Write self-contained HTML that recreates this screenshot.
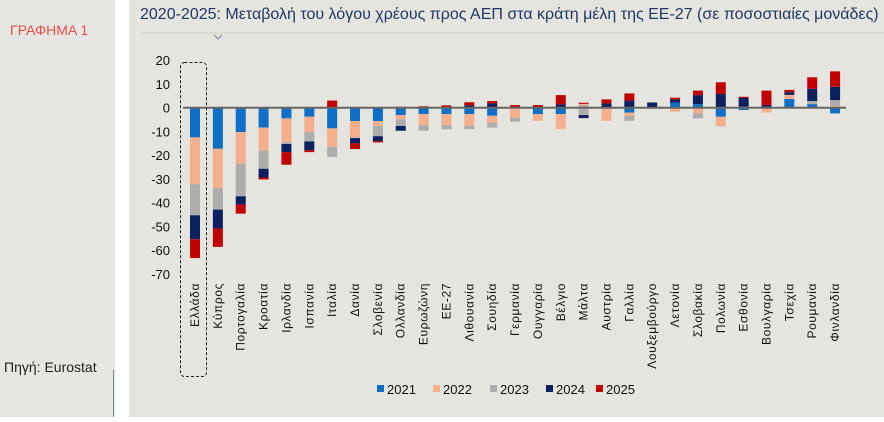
<!DOCTYPE html>
<html><head><meta charset="utf-8"><style>
body{margin:0;width:884px;height:417px;overflow:hidden;background:#fff;font-family:"Liberation Sans","DejaVu Sans",sans-serif}
</style></head><body>
<svg width="884" height="417" xmlns="http://www.w3.org/2000/svg" font-family="Liberation Sans, DejaVu Sans, sans-serif">
<rect x="0" y="0" width="115" height="417" fill="#e8e6e2"/>
<rect x="129" y="0" width="755" height="417" fill="#e6e4df"/>
<line x1="113.5" y1="370" x2="113.5" y2="417" stroke="#7a8aa0" stroke-width="1"/>
<text x="10" y="35" font-size="14" fill="#e0504a">ΓΡΑΦΗΜΑ 1</text>
<text x="4" y="372" font-size="14" fill="#222">Πηγή: Eurostat</text>
<text x="140" y="19" font-size="16" fill="#1f3864">2020-2025: Μεταβολή του λόγου χρέους προς ΑΕΠ στα κράτη μέλη της ΕΕ-27 (σε ποσοστιαίες μονάδες)</text>
<line x1="140" y1="33" x2="884" y2="33" stroke="#d4d2ce" stroke-width="1"/>
<path d="M214 35 L218 39 L222 35" fill="none" stroke="#8a9ab0" stroke-width="1.3"/>
<g id="yt" font-size="13" fill="#111" text-anchor="end"></g>
<g id="bars"></g>
<line x1="183" y1="107.7" x2="846" y2="107.7" stroke="#666" stroke-width="2"/>
<g id="lbl" font-size="12" fill="#111"></g>
<rect x="180.5" y="62.5" width="26" height="314" rx="4" fill="none" stroke="#222" stroke-dasharray="3,2" stroke-width="1"/>
<g font-size="13" fill="#111">
<rect x="377" y="385" width="7" height="7" fill="#0f6fc6"/><text x="387" y="394">2021</text>
<rect x="433" y="385" width="7" height="7" fill="#f4b08c"/><text x="443" y="394">2022</text>
<rect x="490" y="385" width="7" height="7" fill="#adadad"/><text x="500" y="394">2023</text>
<rect x="546" y="385" width="7" height="7" fill="#0c1f5e"/><text x="556" y="394">2024</text>
<rect x="596" y="385" width="7" height="7" fill="#c00000"/><text x="606" y="394">2025</text>
</g>
</svg>
<script>
var NS="http://www.w3.org/2000/svg",Z=107.7,S=2.375;
function el(p,t,a,txt){var e=document.createElementNS(NS,t);for(var k in a)e.setAttribute(k,a[k]);if(txt)e.textContent=txt;document.getElementById(p).appendChild(e);}
for(var v=20;v>=-70;v-=10)el("yt","text",{x:170,y:Z-v*S+5},""+v);
var C={b:"#0f6fc6",p:"#f4b08c",g:"#adadad",n:"#0c1f5e",r:"#c00000"};
var D=[
["Ελλάδα",[],[["b",12.5],["p",19.7],["g",13.1],["n",10.1],["r",7.9]]],
["Κύπρος",[],[["b",17.3],["p",16.6],["g",9],["n",8],["r",7.7]]],
["Πορτογαλία",[],[["b",10.3],["p",13.2],["g",13.8],["n",3.5],["r",3.8]]],
["Κροατία",[],[["b",8.4],["p",9.7],["g",7.6],["n",3.7],["r",0.8]]],
["Ιρλανδία",[],[["b",4.5],["p",10],["g",0.8],["n",3.4],["r",5.3]]],
["Ισπανία",[],[["b",3.8],["p",6.5],["g",3.9],["n",3.7],["r",0.8]]],
["Ιταλία",[["r",3]],[["b",8.7],["p",7.8],["g",4.2]]],
["Δανία",[],[["b",5.6],["p",6.9],["g",0.3],["n",2.2],["r",2.4]]],
["Σλοβενία",[],[["b",5.6],["p",2.1],["g",4.3],["n",2],["r",0.6]]],
["Ολλανδία",[["r",0.4]],[["b",3.1],["p",1.8],["g",2.8],["n",2]]],
["Ευρωζώνη",[["r",0.6]],[["b",2.7],["p",4.6],["g",2.4]]],
["ΕΕ-27",[["r",1]],[["b",2.7],["p",4.6],["g",1.8]]],
["Λιθουανία",[["n",1],["r",1.3]],[["b",2.7],["p",5],["g",1.3]]],
["Σουηδία",[["n",1.8],["r",1]],[["b",3.4],["p",2.9],["g",2.1]]],
["Γερμανία",[["r",1.1]],[["p",4.2],["g",1.7]]],
["Ουγγαρία",[["r",1.1]],[["b",2.7],["p",2.8]]],
["Βέλγιο",[["n",1.4],["r",3.9]],[["b",2.7],["p",6.2]]],
["Μάλτα",[["g",1.1],["p",0.5],["r",0.5]],[["g",3.1],["n",1.3]]],
["Αυστρία",[["n",1.8],["r",1.7]],[["p",5.5]]],
["Γαλλία",[["n",3],["r",3]],[["b",2.1],["p",1.4],["g",2]]],
["Λουξεμβούργο",[["n",2.2]],[["g",0.4]]],
["Λετονία",[["b",2.2],["n",1.3],["r",0.7]],[["p",1.7]]],
["Σλοβακία",[["b",1.5],["n",3.8],["r",1.9]],[["p",2.4],["g",2.1]]],
["Πολωνία",[["n",5.8],["r",4.9]],[["b",3.8],["p",4.1]]],
["Εσθονία",[["g",0.4],["n",3.7],["r",0.5]],[["b",1]]],
["Βουλγαρία",[["n",1.1],["r",6.1]],[["p",2]]],
["Τσεχία",[["b",3.7],["p",1.7],["n",1.1],["r",1]]],
["Ρουμανία",[["b",1.5],["g",1.3],["n",5.2],["r",4.8]],[]],
["Φινλανδία",[["p",0.7],["g",2.5],["n",5.6],["r",6.5]],[["b",2.4]]]
];
D.forEach(function(d,i){
 var cx=195+i*22.86,x=cx-5,w=10;
 var t=0;(d[1]||[]).forEach(function(s){el("bars","rect",{x:x,y:Z-(t+s[1])*S,width:w,height:s[1]*S,fill:C[s[0]]});t+=s[1];});
 t=0;(d[2]||[]).forEach(function(s){el("bars","rect",{x:x,y:Z+t*S,width:w,height:s[1]*S,fill:C[s[0]]});t+=s[1];});
 el("lbl","text",{x:0,y:0,"text-anchor":"end",transform:"translate("+(cx+4)+",283) rotate(-90)","letter-spacing":"0.6"},d[0]);
});
</script>
</body></html>
